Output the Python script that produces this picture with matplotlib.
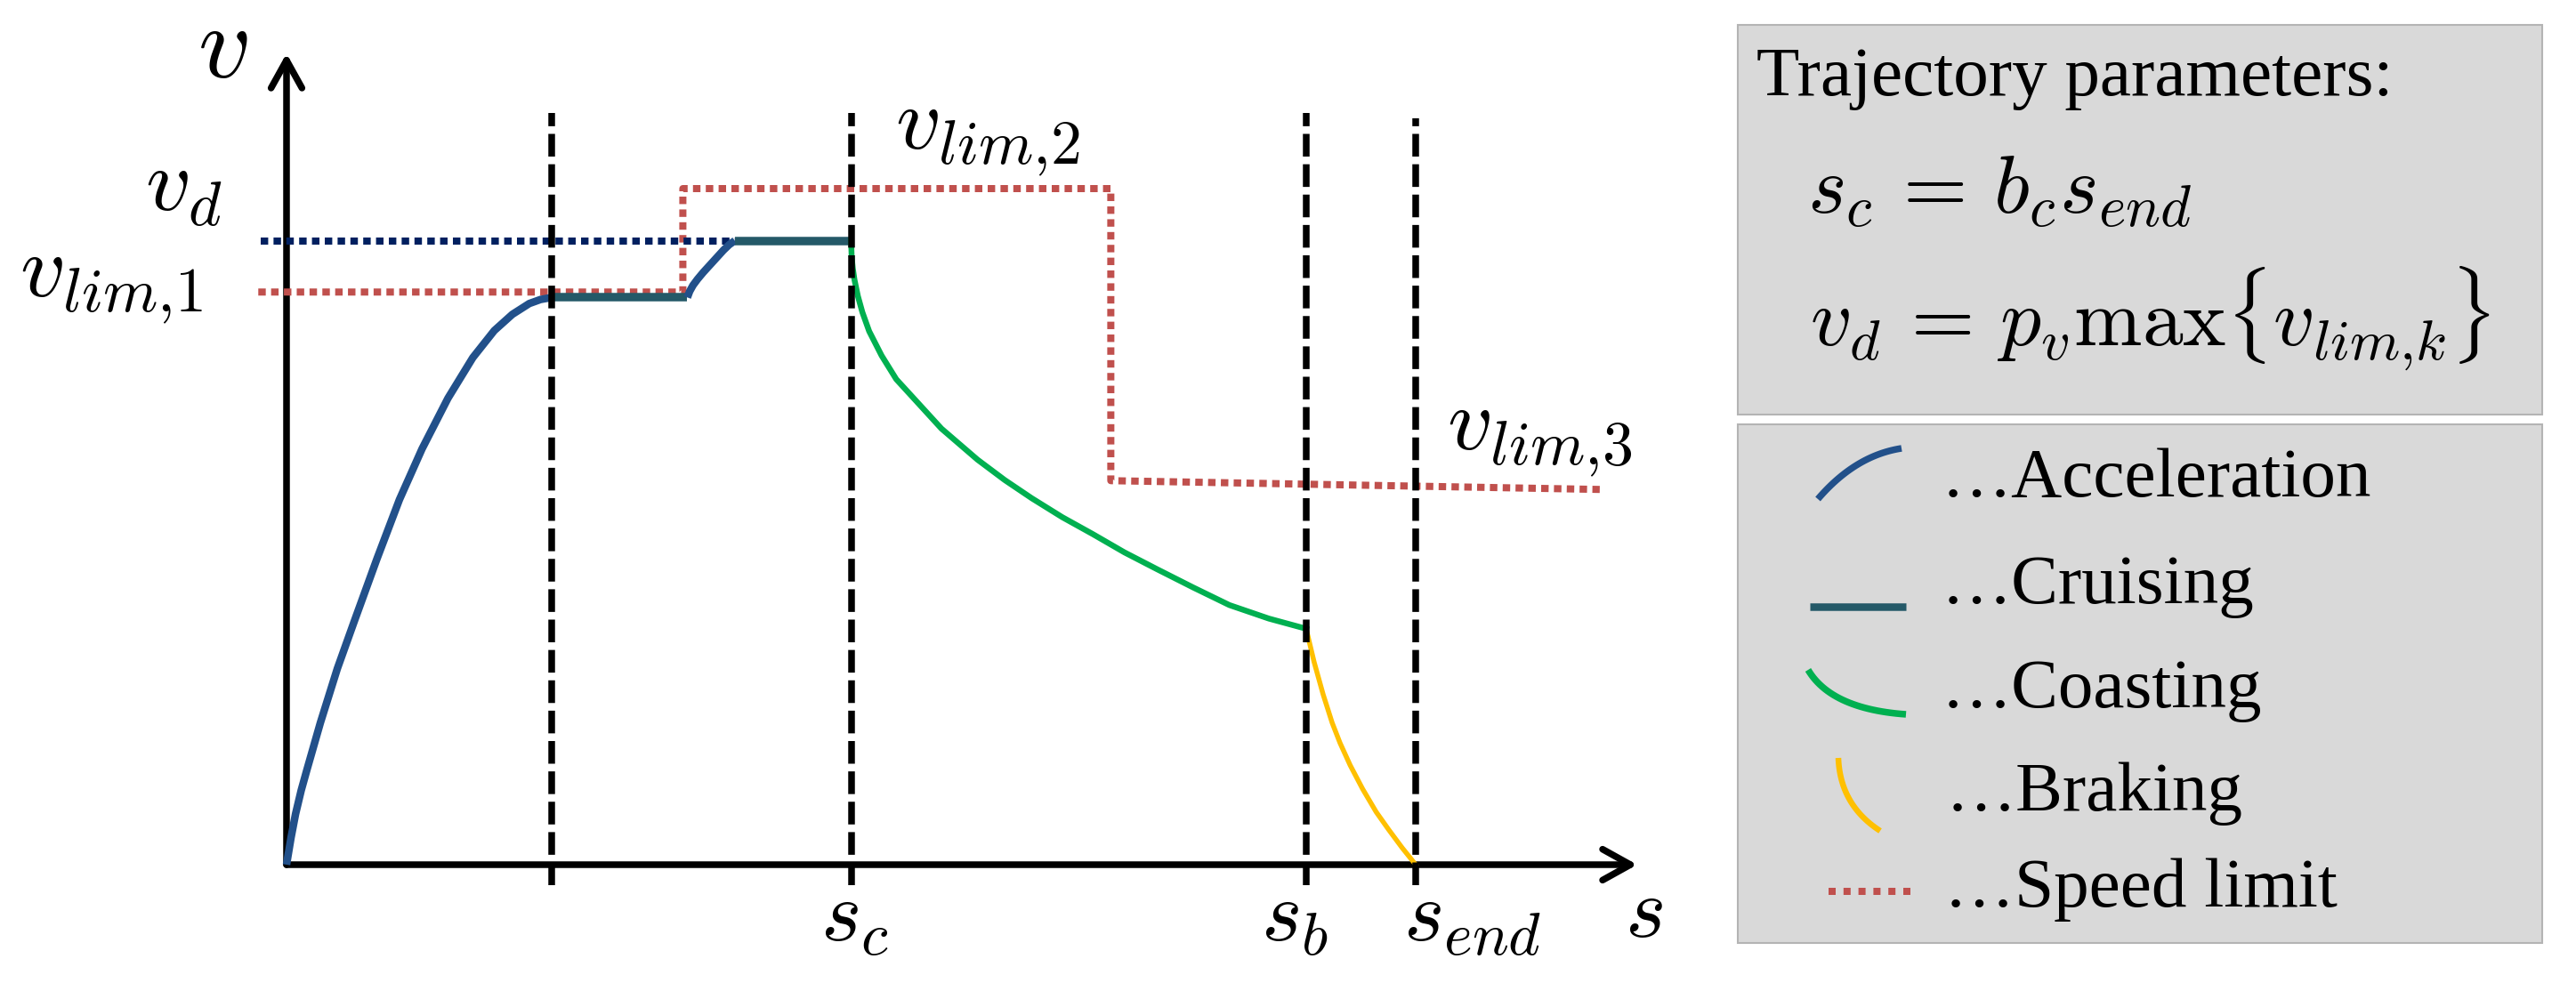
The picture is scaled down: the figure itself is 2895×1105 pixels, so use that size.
import numpy as np
import matplotlib
matplotlib.use('Agg')
import matplotlib.pyplot as plt
from matplotlib.lines import Line2D
from matplotlib.patches import Rectangle

plt.rcParams['mathtext.fontset'] = 'cm'

# ---------------- data (s normalised by s_end, v normalised by v_lim,2) ----------------
acc1_s = [0.000, 0.004, 0.008, 0.013, 0.018, 0.030, 0.045, 0.060, 0.080, 0.100,
          0.120, 0.143, 0.165, 0.184, 0.200, 0.215, 0.225, 0.235]
acc1_v = [0.000, 0.040, 0.075, 0.110, 0.140, 0.210, 0.290, 0.360, 0.452, 0.540,
          0.615, 0.690, 0.750, 0.790, 0.814, 0.830, 0.836, 0.839]
cruise1_s = [0.235, 0.355]
cruise1_v = [0.839, 0.839]
acc2_s = [0.355, 0.357, 0.360, 0.364, 0.369, 0.375, 0.381, 0.387, 0.392, 0.397]
acc2_v = [0.839, 0.848, 0.857, 0.866, 0.876, 0.887, 0.898, 0.909, 0.917, 0.923]
cruise2_s = [0.397, 0.500]
cruise2_v = [0.923, 0.923]
coast_s = [0.500, 0.5005, 0.5015, 0.503, 0.506, 0.510, 0.516, 0.527, 0.540, 0.557, 0.580,
           0.612, 0.636, 0.660, 0.687, 0.714, 0.742, 0.771, 0.803, 0.835, 0.870, 0.903]
coast_v = [0.923, 0.899, 0.882, 0.865, 0.841, 0.817, 0.789, 0.753, 0.718, 0.687, 0.645,
           0.599, 0.569, 0.542, 0.514, 0.489, 0.462, 0.437, 0.410, 0.384, 0.364, 0.349]
brake_s = [0.903, 0.910, 0.918, 0.926, 0.933, 0.942, 0.953, 0.965, 0.976, 0.988, 1.000]
brake_v = [0.349, 0.300, 0.252, 0.210, 0.180, 0.147, 0.112, 0.078, 0.052, 0.025, 0.000]
limit_s = [-0.025, 0.351, 0.351, 0.730, 0.730, 1.163]
limit_v = [0.847, 0.847, 1.000, 1.000, 0.568, 0.555]
vd_s = [-0.023, 0.397]
vd_v = [0.923, 0.923]
bound_s = [0.235, 0.500, 0.903, 1.000]
bound_top = [1.112, 1.112, 1.112, 1.104]
bound_bottom = -0.03
x_labels = [r'$s_c$', r'$s_b$', r'$s_{end}$']
x_label_pos = [0.503, 0.893, 1.050]

# ---------------- figure ----------------
W, H, DPI = 2895, 1105, 100
fig = plt.figure(figsize=(W / DPI, H / DPI), dpi=DPI)
fig.patch.set_facecolor('white')

def fx(x):
    return x / W

def fy(y):
    return 1 - y / H

OX, OY, SPX, VPX = 322, 972, 1269, 760
xl, xr, yb, yt = -0.25, 1.25, -0.17, 1.27
ax = fig.add_axes([fx(OX + xl * SPX), fy(OY - yb * VPX),
                   (xr - xl) * SPX / W, (yt - yb) * VPX / H])
ax.set_xlim(xl, xr)
ax.set_ylim(yb, yt)
ax.axis('off')

def ds(px):
    return (px - OX) / SPX

def dv(py):
    return (OY - py) / VPX

PT = 0.72  # points per pixel

C_ACC = '#22508A'
C_CRU = '#245968'
C_COA = '#00B050'
C_BRA = '#FFC000'
C_LIM = '#C0504D'
C_VD = '#002060'

# axes arrows
arrow = dict(arrowstyle='->,head_length=0.45,head_width=0.25', lw=7.5 * PT, color='k',
             shrinkA=0, shrinkB=0, mutation_scale=50)
ax.annotate('', xy=(0, dv(60)), xytext=(0, 0), arrowprops=arrow, zorder=2)
ax.annotate('', xy=(ds(1840), 0), xytext=(0, 0), arrowprops=arrow, zorder=2)

# dotted reference lines
dot = (0, (1.05, 0.75))
ax.plot(limit_s, limit_v, color=C_LIM, lw=8 * PT, linestyle=dot, zorder=3,
        dash_capstyle='butt')
ax.plot(vd_s, vd_v, color=C_VD, lw=8 * PT, linestyle=dot, zorder=3, dash_capstyle='butt')

# boundaries
for s, top in zip(bound_s, bound_top):
    ax.plot([s, s], [bound_bottom, top], color='k', lw=7.5 * PT,
            linestyle=(0, (3.4, 1.15)), dash_capstyle='butt', zorder=6)

# trajectory
ax.plot(acc1_s, acc1_v, color=C_ACC, lw=8.5 * PT, zorder=5, solid_capstyle='butt')
ax.plot(cruise1_s, cruise1_v, color=C_CRU, lw=9.5 * PT, zorder=5, solid_capstyle='butt')
ax.plot(acc2_s, acc2_v, color=C_ACC, lw=8.5 * PT, zorder=5, solid_capstyle='butt')
ax.plot(cruise2_s, cruise2_v, color=C_CRU, lw=9.5 * PT, zorder=5, solid_capstyle='butt')
ax.plot(coast_s, coast_v, color=C_COA, lw=6.5 * PT, zorder=5)
ax.plot(brake_s, brake_v, color=C_BRA, lw=5.5 * PT, zorder=5)

# axis labels
ax.text(ds(250), dv(87), r'$v$', fontsize=84, ha='center', va='baseline')
ax.text(ds(1847), dv(1053), r'$s$', fontsize=70, ha='center', va='baseline')
ax.text(ds(163), dv(237), r'$v_d$', fontsize=72, ha='left', va='baseline')
ax.text(ds(22), dv(333), r'$v_{lim{,}1}$', fontsize=72, ha='left', va='baseline')
ax.text(ds(1006), dv(167), r'$v_{lim{,}2}$', fontsize=72, ha='left', va='baseline')
ax.text(ds(1626), dv(505), r'$v_{lim{,}3}$', fontsize=72, ha='left', va='baseline')
for lab, pos in zip(x_labels, x_label_pos):
    ax.text(pos, dv(1057), lab, fontsize=70, ha='center', va='baseline')

# ---------------- legend boxes ----------------
BOX_FC, BOX_EC = '#D9D9D9', '#B4B4B4'
fig.add_artist(Rectangle((fx(1953), fy(466)), (2857 - 1953) / W, (466 - 28) / H,
                         transform=fig.transFigure, fc=BOX_FC, ec=BOX_EC, lw=1.5))
fig.add_artist(Rectangle((fx(1953), fy(1060)), (2857 - 1953) / W, (1060 - 477) / H,
                         transform=fig.transFigure, fc=BOX_FC, ec=BOX_EC, lw=1.5))

serif = 'Liberation Serif'
fig.text(fx(1974), fy(107), 'Trajectory parameters:', fontsize=57, family=serif,
         ha='left', va='baseline')
fig.text(fx(2031), fy(240), r'$s_c\,=\,b_c s_{end}$', fontsize=67, ha='left', va='baseline')
fig.text(fx(2034), fy(388), r'$v_d\,=\,p_v \max\{v_{lim{,}k}\}$', fontsize=66,
         ha='left', va='baseline')

legend_labels = ['…Acceleration', '…Cruising', '…Coasting', '…Braking', '…Speed limit']
legend_base = [558, 678, 795, 911, 1019]
legend_left = [2182, 2182, 2182, 2187, 2185]
for lab, b, l in zip(legend_labels, legend_base, legend_left):
    fig.text(fx(l), fy(b), lab, fontsize=57, family=serif, ha='left', va='baseline')


def bez(p0, p1, p2, n=30):
    t = np.linspace(0, 1, n)[:, None]
    p0, p1, p2 = map(np.array, (p0, p1, p2))
    pts = (1 - t) ** 2 * p0 + 2 * (1 - t) * t * p1 + t ** 2 * p2
    return [fx(x) for x in pts[:, 0]], [fy(y) for y in pts[:, 1]]


def add_icon(xs, ys, **kw):
    fig.add_artist(Line2D(xs, ys, transform=fig.transFigure, **kw))


xs, ys = bez((2043, 561), (2085, 512), (2137, 504))
add_icon(xs, ys, color=C_ACC, lw=7.5 * PT, solid_capstyle='butt')
add_icon([fx(2034), fx(2142)], [fy(682), fy(682)], color=C_CRU, lw=8.5 * PT,
         solid_capstyle='butt')
xs, ys = bez((2032, 753), (2058, 797), (2142, 803))
add_icon(xs, ys, color=C_COA, lw=7.5 * PT, solid_capstyle='butt')
xs, ys = bez((2066, 852), (2068, 905), (2113, 934))
add_icon(xs, ys, color=C_BRA, lw=6.5 * PT, solid_capstyle='butt')
add_icon([fx(2055), fx(2147)], [fy(1002), fy(1002)], color=C_LIM, lw=8 * PT,
         linestyle=(0, (1.0, 1.1)), dash_capstyle='butt')

fig.savefig('out.png', dpi=DPI, facecolor='white')
